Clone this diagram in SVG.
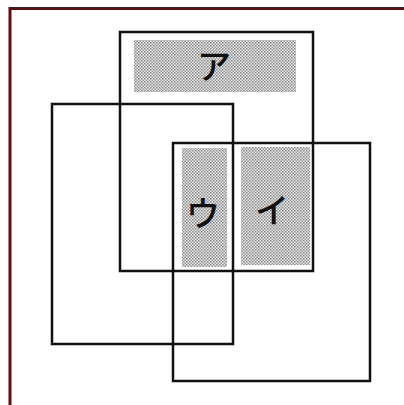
<svg xmlns="http://www.w3.org/2000/svg" width="404" height="405" viewBox="0 0 404 405">
  <defs>
    <!-- fine halftone dot screen used for the shaded areas -->
    <pattern id="dots" width="3" height="3" patternUnits="userSpaceOnUse">
      <rect width="3" height="3" fill="#e6e6e6"/>
      <rect x="0" y="0" width="1.5" height="1.5" fill="#8a8a8a"/>
      <rect x="1.5" y="1.5" width="1.5" height="1.5" fill="#9a9a9a"/>
    </pattern>
    <style>
      .frame { fill: none; stroke: #650c0c; stroke-width: 3; }
      .box { fill: none; stroke: #111; stroke-width: 2.5; }
      .shade { fill: url(#dots); }
      .label { font-family: "Noto Sans CJK JP", "Noto Sans CJK SC", sans-serif; font-size: 34px; font-weight: 500; fill: #111; text-anchor: middle; dominant-baseline: central; }
    </style>
  </defs>
  <rect width="404" height="405" fill="#fff"/>

  <!-- outer frame (top and left edges) -->
  <path class="frame" d="M10 405 V8.5 H404"/>

  <!-- shaded regions -->
  <g id="shade-a">
    <rect class="shade" x="134" y="40" width="162" height="52"/>
    <text class="label" x="214" y="64">ア</text>
  </g>
  <g id="shade-u">
    <rect class="shade" x="182" y="148" width="45" height="119"/>
    <text class="label" x="203" y="211">ウ</text>
  </g>
  <g id="shade-i">
    <rect class="shade" x="241" y="147" width="69" height="118"/>
    <text class="label" x="272" y="208">イ</text>
  </g>

  <!-- overlapping outline sets -->
  <g id="sets">
    <g id="set-top"><rect class="box" x="120" y="32" width="193" height="239"/></g>
    <g id="set-left"><rect class="box" x="52" y="104" width="181" height="240"/></g>
    <g id="set-right"><rect class="box" x="173" y="143" width="197" height="238"/></g>
  </g>
</svg>
